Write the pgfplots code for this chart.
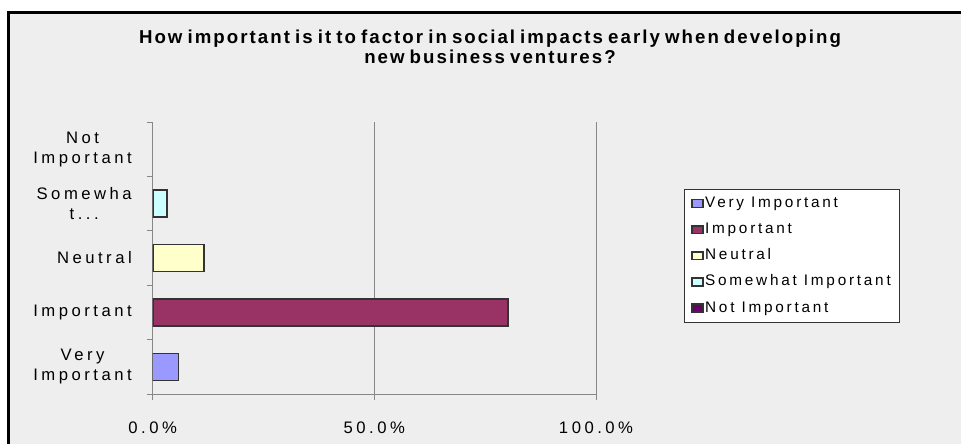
\documentclass[border=0pt]{standalone}
\usepackage{pgfplots}
\pgfplotsset{compat=1.18}
\usepackage{fontspec}
\setmainfont{Liberation Sans}
\newfontfamily\spaced[LetterSpace=21]{Liberation Sans}
\newfontfamily\legfont[LetterSpace=18]{Liberation Sans}
\newfontfamily\titlefont[LetterSpace=11,WordSpace=0.7]{Liberation Sans}

\definecolor{panel}{HTML}{EEEEEE}
\definecolor{gridgray}{HTML}{878787}
\definecolor{barline}{HTML}{333333}
\definecolor{cVery}{HTML}{9999FF}
\definecolor{cImp}{HTML}{993366}
\definecolor{cNeu}{HTML}{FFFFCC}
\definecolor{cSome}{HTML}{CCFFFF}
\definecolor{cNot}{HTML}{660066}

\newcommand{\tdots}{t.\relax.\relax.}

\pgfplotsset{
  sqlegend/.style={legend image code/.code={%
    \draw[##1,line width=1.1pt,draw=barline] (0pt,-2.9pt) rectangle (8.2pt,2.9pt);}},
}

\begin{document}
\begin{tikzpicture}
% page and panel
\path[use as bounding box,fill=white] (0,0) rectangle (720.75pt,333pt);
\fill[panel] (6pt,0) rectangle (720.75pt,323.25pt);
\draw[black,line width=2.25pt] (6.4pt,0) -- (6.4pt,323.25pt) -- (720.75pt,323.25pt);

% title
\node[align=center,font=\titlefont\bfseries\fontsize{14}{15}\selectfont,anchor=center]
  at (367.5pt,298pt) {How important is it to factor in social impacts early when developing\\new business ventures?};

\begin{axis}[
  at={(114.5pt,37.5pt)}, anchor=south west,
  scale only axis, width=332.5pt, height=204pt,
  xmin=0, xmax=100, ymin=-0.5, ymax=4.5,
  axis x line*=bottom, axis y line*=left,
  axis line style={gridgray,line width=0.75pt},
  xbar, bar width=20.25pt,
  xtick={0,50,100},
  xticklabels={0.0\%,50.0\%,100.0\%},
  ytick={0,1,2,3,4},
  yticklabels={{Very\\Important},Important,Neutral,{Somewha\\\tdots},{Not\\Important}},
  minor ytick={-0.5,0.5,1.5,2.5,3.5,4.5},
  tick align=outside,
  major tick length=4.5pt, minor tick length=4.5pt,
  every tick/.style={gridgray,line width=0.75pt},
  every major y tick/.style={draw=none},
  xmajorgrids, grid style={gridgray,line width=0.75pt},
  xticklabel style={font=\spaced\fontsize{12.5}{15}\selectfont,inner sep=0pt,yshift=-16pt},
  yticklabel style={font=\spaced\fontsize{12.5}{15}\selectfont,align=center,inner sep=0pt,anchor=east,xshift=-11pt},
  legend style={
    at={(rel axis cs:1.1985,0.7537)}, anchor=north west,
    draw=barline, line width=0.75pt, fill=white,
    font=\legfont\fontsize{11.5}{12}\selectfont,
    inner xsep=5pt, inner ysep=5.5pt,
    row sep=9.6pt,
    nodes={inner xsep=1.2pt, inner ysep=0pt, text height=8pt, text depth=2pt},
  },
  legend cell align=left,
]
\addplot[fill=cVery, draw=barline, line width=1pt, bar shift=0pt, sqlegend] coordinates {(5.8,0)};
\addplot[fill=cImp,  draw=barline, line width=1.3pt, bar shift=0pt, sqlegend] coordinates {(80.2,1)};
\addplot[fill=cNeu,  draw=barline, line width=1.3pt, bar shift=0pt, sqlegend] coordinates {(11.6,2)};
\addplot[fill=cSome, draw=barline, line width=1.3pt, bar shift=0pt, sqlegend] coordinates {(3.3,3)};
\addlegendimage{fill=cNot, draw=barline, sqlegend}
\legend{Very Important,Important,Neutral,Somewhat Important,Not Important}
\end{axis}
\end{tikzpicture}
\end{document}
